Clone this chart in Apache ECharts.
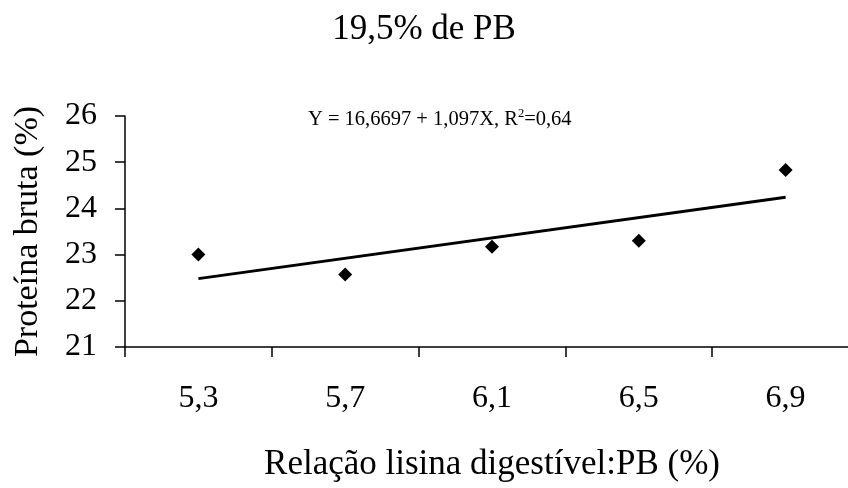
<!DOCTYPE html>
<html><head><meta charset="utf-8">
<script src="https://cdn.jsdelivr.net/npm/echarts@6/dist/echarts.min.js"></script>
<style>html,body{margin:0;padding:0;background:#fff}#c{width:848px;height:488px}</style>
</head><body><div id="c"></div>
<script>
const categories = ['5,3', '5,7', '6,1', '6,5', '6,9'];
const observed = [23.0, 22.57, 23.17, 23.3, 24.83];
const trendX = ['5,3', '6,9'];
const trendY = [22.48, 24.24];
const yTicks = [21, 22, 23, 24, 25, 26];

const FONT = '"Liberation Serif", "Times New Roman", serif';
const chart = echarts.init(document.getElementById('c'));
chart.setOption({
  backgroundColor: '#fff',
  animation: false,
  title: {
    text: '19,5% de PB', left: 'center', top: 7,
    textStyle: { fontFamily: FONT, fontSize: 35, fontWeight: 'normal', color: '#000' }
  },
  grid: { left: 125, top: 116, width: 734, height: 231, containLabel: false, outerBoundsMode: 'none' },
  xAxis: {
    type: 'category', data: categories, boundaryGap: true,
    name: 'Relação lisina digestível:PB (%)', nameLocation: 'middle', nameGap: 100,
    nameTextStyle: { fontFamily: FONT, fontSize: 35, color: '#000' },
    axisLine: { lineStyle: { color: '#000', width: 1.5 } },
    axisTick: { show: true, length: 10, inside: false, lineStyle: { color: '#000', width: 1.5 } },
    axisLabel: { fontFamily: FONT, fontSize: 32, color: '#000', margin: 36 },
    splitLine: { show: false }
  },
  yAxis: {
    type: 'value', min: yTicks[0], max: yTicks[yTicks.length - 1], interval: 1,
    name: 'Proteína bruta (%)', nameLocation: 'middle', nameGap: 80,
    nameTextStyle: { fontFamily: FONT, fontSize: 34, color: '#000' },
    axisLine: { show: true, lineStyle: { color: '#000', width: 1.5 } },
    axisTick: { show: true, length: 10, lineStyle: { color: '#000', width: 1.5 } },
    axisLabel: { fontFamily: FONT, fontSize: 32, color: '#000', margin: 28 },
    splitLine: { show: false }
  },
  series: [
    {
      type: 'line', data: trendX.map((x, i) => [x, trendY[i]]),
      symbol: 'none', lineStyle: { color: '#000', width: 3 }, z: 2
    },
    {
      type: 'scatter', data: categories.map((c, i) => [c, observed[i]]),
      symbol: 'diamond', symbolSize: 14, itemStyle: { color: '#000', opacity: 1 }, z: 3
    }
  ],
  graphic: [{
    type: 'text', left: 308, top: 107,
    style: {
      text: '{n|Y = 16,6697 + 1,097X, R}{s|2}{n|=0,64}',
      rich: {
        n: { fontFamily: FONT, fontSize: 20.5, fill: '#000', verticalAlign: 'bottom', lineHeight: 23 },
        s: { fontFamily: FONT, fontSize: 12.5, fill: '#000', verticalAlign: 'top', lineHeight: 23, padding: [0, 0, 9, 0] }
      }
    }
  }]
});
</script></body></html>
